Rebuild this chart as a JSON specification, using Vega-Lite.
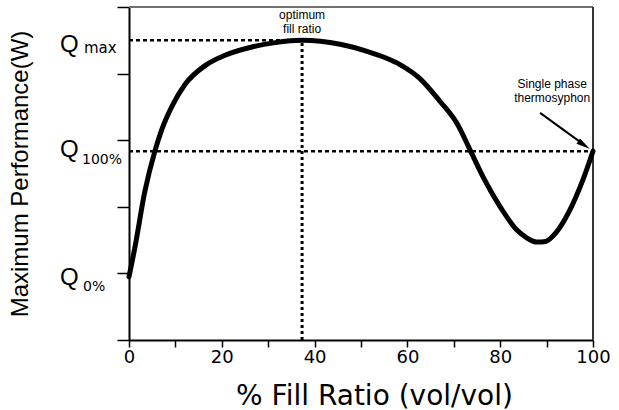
{
  "$schema": "https://vega.github.io/schema/vega-lite/v6.json",
  "width": 464,
  "height": 333,
  "autosize": "none",
  "padding": {"left": 129, "top": 7, "right": 26, "bottom": 70},
  "background": "white",
  "config": {"view": {"stroke": null}, "font": "Liberation Sans"},
  "datasets": {
    "curve": [
      {"x": 0, "y": 1.9}, {"x": 1.3, "y": 2.8}, {"x": 3.4, "y": 4.45}, {"x": 5.6, "y": 5.68},
      {"x": 7.1, "y": 6.33}, {"x": 9.3, "y": 7.03}, {"x": 12.1, "y": 7.68}, {"x": 16.4, "y": 8.24},
      {"x": 20.7, "y": 8.55}, {"x": 26.5, "y": 8.8}, {"x": 31.5, "y": 8.93}, {"x": 37.3, "y": 9.0},
      {"x": 45.5, "y": 8.88}, {"x": 51.3, "y": 8.67}, {"x": 55.0, "y": 8.49}, {"x": 58.4, "y": 8.27},
      {"x": 62.7, "y": 7.85}, {"x": 67.0, "y": 7.17}, {"x": 70.7, "y": 6.5}, {"x": 73.5, "y": 5.71},
      {"x": 76.3, "y": 4.9}, {"x": 80.0, "y": 4.0}, {"x": 83.6, "y": 3.3}, {"x": 85.8, "y": 3.06},
      {"x": 87.9, "y": 2.94}, {"x": 89.8, "y": 2.96}, {"x": 92.0, "y": 3.22}, {"x": 95.0, "y": 3.9},
      {"x": 97.8, "y": 4.8}, {"x": 100, "y": 5.67}
    ],
    "refs": [
      {"kind": "hdot", "x": 0, "y": 9, "x2": 37.3, "y2": 9},
      {"kind": "hdot", "x": 0, "y": 5.67, "x2": 100, "y2": 5.67},
      {"kind": "vdot", "x": 37.3, "y": 0, "x2": 37.3, "y2": 9},
      {"kind": "top", "x": 0, "y": 10, "x2": 100, "y2": 10},
      {"kind": "right", "x": 100, "y": 0, "x2": 100, "y2": 10},
      {"kind": "arrow", "x": 88.6, "y": 6.82, "x2": 98.1, "y2": 5.86}
    ],
    "heads": [{"x": 98.08, "y": 5.855}],
    "labels": [
      {"name": "max", "q": "Q", "sub": "max", "x": 0, "y": 9},
      {"name": "100", "q": "Q", "sub": "100%", "x": 0, "y": 5.67},
      {"name": "0", "q": "Q", "sub": "0%", "x": 0, "y": 2}
    ],
    "notes": [
      {"name": "opt", "text": "optimum\nfill ratio", "x": 37.3, "y": 9.91},
      {"name": "single", "text": "Single phase\nthermosyphon", "x": 91.2, "y": 7.85}
    ]
  },
  "layer": [
    {
      "data": {"name": "refs"},
      "transform": [{"filter": "datum.kind === 'top'"}],
      "mark": {"type": "rule", "color": "#707070", "strokeWidth": 2},
      "encoding": {
        "x": {"field": "x", "type": "quantitative"},
        "y": {"field": "y", "type": "quantitative"},
        "x2": {"field": "x2"},
        "y2": {"field": "y2"}
      }
    },
    {
      "data": {"name": "refs"},
      "transform": [{"filter": "datum.kind === 'right'"}],
      "mark": {"type": "rule", "color": "#333333", "strokeWidth": 2},
      "encoding": {
        "x": {"field": "x", "type": "quantitative"},
        "y": {"field": "y", "type": "quantitative"},
        "x2": {"field": "x2"},
        "y2": {"field": "y2"}
      }
    },
    {
      "data": {"name": "refs"},
      "transform": [{"filter": "datum.kind === 'hdot'"}],
      "mark": {"type": "rule", "color": "black", "strokeWidth": 2.5, "strokeDash": [4, 3]},
      "encoding": {
        "x": {"field": "x", "type": "quantitative"},
        "y": {"field": "y", "type": "quantitative"},
        "x2": {"field": "x2"},
        "y2": {"field": "y2"}
      }
    },
    {
      "data": {"name": "refs"},
      "transform": [{"filter": "datum.kind === 'vdot'"}],
      "mark": {"type": "rule", "color": "black", "strokeWidth": 3, "strokeDash": [3, 3]},
      "encoding": {
        "x": {"field": "x", "type": "quantitative"},
        "y": {"field": "y", "type": "quantitative"},
        "x2": {"field": "x2"},
        "y2": {"field": "y2"}
      }
    },
    {
      "data": {"name": "curve"},
      "mark": {"type": "line", "color": "black", "strokeWidth": 5, "interpolate": "monotone", "strokeCap": "round"},
      "encoding": {
        "x": {
          "field": "x", "type": "quantitative",
          "scale": {"domain": [0, 100], "nice": false},
          "axis": {
            "values": [0, 10, 20, 30, 40, 50, 60, 70, 80, 90, 100],
            "labelExpr": "datum.value % 20 === 0 ? datum.label : ''",
            "grid": false, "tickSize": 7, "tickColor": "black", "tickWidth": 1.5,
            "domainColor": "black", "domainWidth": 2,
            "labelFont": "DejaVu Sans", "labelFontSize": 18, "labelColor": "black",
            "labelPadding": 1, "labelFlush": false,
            "title": "% Fill Ratio (vol/vol)", "titleFont": "DejaVu Sans", "titleFontSize": 28,
            "titleFontWeight": "normal", "titleColor": "black", "titlePadding": 16, "titleX": 245
          }
        },
        "y": {
          "field": "y", "type": "quantitative",
          "scale": {"domain": [0, 10], "nice": false},
          "axis": {
            "values": [0, 1, 2, 3, 4, 5, 6, 7, 8, 9, 10],
            "labels": false, "grid": false, "tickSize": 12, "tickColor": "black", "tickWidth": 1.5,
            "domainColor": "black", "domainWidth": 2,
            "title": "Maximum Performance(W)", "titleFont": "Liberation Sans", "titleFontSize": 24,
            "titleFontWeight": "normal", "titleColor": "black", "titlePadding": 84
          }
        }
      }
    },
    {
      "data": {"name": "refs"},
      "transform": [{"filter": "datum.kind === 'arrow'"}],
      "mark": {"type": "rule", "color": "black", "strokeWidth": 2},
      "encoding": {
        "x": {"field": "x", "type": "quantitative"},
        "y": {"field": "y", "type": "quantitative"},
        "x2": {"field": "x2"},
        "y2": {"field": "y2"}
      }
    },
    {
      "data": {"name": "heads"},
      "mark": {"type": "point", "shape": "M-1,-0.45L1,0L-1,0.45Z", "filled": true, "color": "black", "opacity": 1, "size": 200, "angle": 34},
      "encoding": {
        "x": {"field": "x", "type": "quantitative"},
        "y": {"field": "y", "type": "quantitative"}
      }
    },
    {
      "data": {"name": "labels"},
      "transform": [{"filter": "datum.name === 'max'"}],
      "layer": [
        {"mark": {"type": "text", "font": "Liberation Sans", "fontSize": 24, "align": "left", "baseline": "alphabetic", "dx": -69, "dy": 12, "color": "black"},
         "encoding": {"x": {"field": "x", "type": "quantitative"}, "y": {"field": "y", "type": "quantitative"}, "text": {"field": "q"}}},
        {"mark": {"type": "text", "font": "DejaVu Sans", "fontSize": 15, "align": "left", "baseline": "alphabetic", "dx": -45, "dy": 13, "color": "black"},
         "encoding": {"x": {"field": "x", "type": "quantitative"}, "y": {"field": "y", "type": "quantitative"}, "text": {"field": "sub"}}}
      ]
    },
    {
      "data": {"name": "labels"},
      "transform": [{"filter": "datum.name === '100'"}],
      "layer": [
        {"mark": {"type": "text", "font": "Liberation Sans", "fontSize": 24, "align": "left", "baseline": "alphabetic", "dx": -69, "dy": 6, "color": "black"},
         "encoding": {"x": {"field": "x", "type": "quantitative"}, "y": {"field": "y", "type": "quantitative"}, "text": {"field": "q"}}},
        {"mark": {"type": "text", "font": "DejaVu Sans", "fontSize": 14, "align": "left", "baseline": "alphabetic", "dx": -47, "dy": 13, "color": "black"},
         "encoding": {"x": {"field": "x", "type": "quantitative"}, "y": {"field": "y", "type": "quantitative"}, "text": {"field": "sub"}}}
      ]
    },
    {
      "data": {"name": "labels"},
      "transform": [{"filter": "datum.name === '0'"}],
      "layer": [
        {"mark": {"type": "text", "font": "Liberation Sans", "fontSize": 24, "align": "left", "baseline": "alphabetic", "dx": -69, "dy": 12, "color": "black"},
         "encoding": {"x": {"field": "x", "type": "quantitative"}, "y": {"field": "y", "type": "quantitative"}, "text": {"field": "q"}}},
        {"mark": {"type": "text", "font": "DejaVu Sans", "fontSize": 14, "align": "left", "baseline": "alphabetic", "dx": -46, "dy": 18, "color": "black"},
         "encoding": {"x": {"field": "x", "type": "quantitative"}, "y": {"field": "y", "type": "quantitative"}, "text": {"field": "sub"}}}
      ]
    },
    {
      "data": {"name": "notes"},
      "mark": {"type": "text", "font": "Liberation Sans", "fontSize": 12, "align": "center", "baseline": "top", "lineBreak": "\n", "lineHeight": 14, "color": "black"},
      "encoding": {
        "x": {"field": "x", "type": "quantitative"},
        "y": {"field": "y", "type": "quantitative"},
        "text": {"field": "text"}
      }
    }
  ]
}
